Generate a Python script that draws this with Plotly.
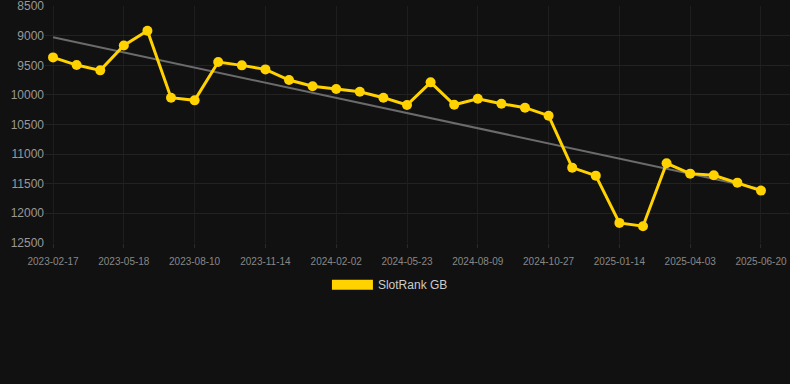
import numpy as np
import plotly.graph_objects as go

dates = [
    "2023-02-17", "2023-03-19", "2023-04-18", "2023-05-18", "2023-06-15", "2023-07-13",
    "2023-08-10", "2023-09-11", "2023-10-13", "2023-11-14", "2023-12-11", "2024-01-07",
    "2024-02-02", "2024-03-09", "2024-04-16", "2024-05-23", "2024-06-18", "2024-07-14",
    "2024-08-09", "2024-09-04", "2024-10-01", "2024-10-27", "2024-11-22", "2024-12-19",
    "2025-01-14", "2025-02-09", "2025-03-08", "2025-04-03", "2025-04-29", "2025-05-25",
    "2025-06-20",
]
rank = [
    9366, 9496, 9585, 9164, 8916, 10047, 10092, 9445, 9501, 9569, 9749, 9855,
    9901, 9946, 10047, 10171, 9788, 10166, 10064, 10149, 10216, 10351, 11229, 11364,
    12162, 12218, 11155, 11330, 11357, 11482, 11617,
]
tick_labels = dates[::3]
y_ticks = [8500, 9000, 9500, 10000, 10500, 11000, 11500, 12000, 12500]

idx = np.arange(len(rank))
slope, intercept = np.polyfit(idx, rank, 1)
trend = (slope * idx + intercept).tolist()

YELLOW = "#FFD200"
fig = go.Figure()
fig.add_trace(go.Scatter(
    x=dates, y=trend, mode="lines", line=dict(color="#6b6b6b", width=2),
    showlegend=False, hoverinfo="skip",
))
fig.add_trace(go.Scatter(
    x=dates, y=rank, mode="lines+markers", name="SlotRank GB",
    line=dict(color=YELLOW, width=3), marker=dict(color=YELLOW, size=10),
    showlegend=False,
))
fig.add_trace(go.Scatter(
    x=[None], y=[None], mode="lines", name="SlotRank GB",
    line=dict(color=YELLOW, width=11), showlegend=True,
))

fig.update_layout(
    width=790, height=384,
    paper_bgcolor="#111111", plot_bgcolor="#111111",
    margin=dict(l=45, r=0, t=6, b=141),
    font=dict(family="Liberation Sans, Arial, sans-serif", color="#999999"),
    showlegend=True,
    legend=dict(
        orientation="h", x=0.463, xanchor="center", y=-0.115, yanchor="top",
        font=dict(size=12, color="#cccccc"), bgcolor="rgba(0,0,0,0)", itemwidth=41,
    ),
    xaxis=dict(
        type="category", categoryorder="array", categoryarray=dates,
        range=[-0.34, 31.23], tickvals=tick_labels, ticktext=tick_labels,
        showgrid=True, gridcolor="#1e1e1e", gridwidth=1,
        tickfont=dict(size=10, color="#888888"), ticks="outside", ticklen=4,
        tickcolor="#2a2a2a", showline=False, zeroline=False, ticklabelstandoff=5,
        ticklabeloverflow="allow",
    ),
    yaxis=dict(
        range=[12502, 8498], tickvals=y_ticks, ticktext=[str(v) for v in y_ticks],
        showgrid=True, gridcolor="#222222", gridwidth=1,
        tickfont=dict(size=12, color="#999999"), zeroline=False, ticks="",
        ticklabeloverflow="allow",
    ),
)
fig.write_html(
    "out.html",
    config={"displayModeBar": False},
    post_script="document.body.style.margin='0';document.body.style.background='#111111';document.body.style.overflow='hidden';",
)
